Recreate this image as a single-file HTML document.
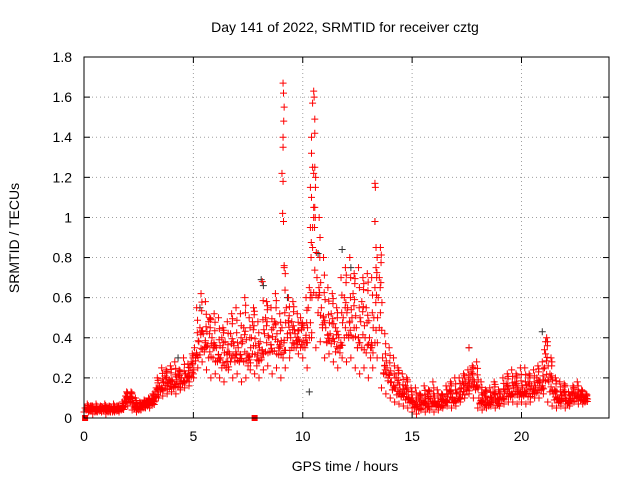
<!DOCTYPE html>
<html><head><meta charset="utf-8"><style>
html,body{margin:0;padding:0;background:#fff;}
svg{display:block;font-family:"Liberation Sans",sans-serif;}
</style></head><body>
<svg id="chart" width="640" height="480" xmlns="http://www.w3.org/2000/svg">
<text x="345" y="32" text-anchor="middle" font-size="14">Day 141 of 2022, SRMTID for receiver cztg</text>
<text x="345" y="471" text-anchor="middle" font-size="14">GPS time / hours</text>
<text transform="translate(19,238) rotate(-90)" text-anchor="middle" font-size="14">SRMTID / TECUs</text>
<g id="grid"></g><g id="marks"></g><g id="axes"></g>
</svg>
<script>
const hours=[0,0.2,0.4,0.6,0.8,1,1.2,1.4,1.6,1.8,2,2.2,2.4,2.6,2.8,3,3.2,3.4,3.6,3.8,4,4.2,4.4,4.6,4.8,5,5.2,5.4,5.6,5.8,6,6.2,6.4,6.6,6.8,7,7.2,7.4,7.6,7.8,8,8.2,8.4,8.6,8.8,9,9.2,9.4,9.6,9.8,10,10.2,10.4,10.6,10.8,11,11.2,11.4,11.6,11.8,12,12.2,12.4,12.6,12.8,13,13.2,13.4,13.6,13.8,14,14.2,14.4,14.6,14.8,15,15.2,15.4,15.6,15.8,16,16.2,16.4,16.6,16.8,17,17.2,17.4,17.6,17.8,18,18.2,18.4,18.6,18.8,19,19.2,19.4,19.6,19.8,20,20.2,20.4,20.6,20.8,21,21.2,21.4,21.6,21.8,22,22.2,22.4,22.6,22.8];
const lo=[.03,.03,.02,.03,.03,.02,.03,.03,.03,.06,.06,.04,.03,.04,.05,.05,.08,.10,.11,.12,.13,.12,.14,.15,.16,.22,.25,.28,.24,.20,.22,.20,.18,.24,.20,.22,.18,.20,.24,.22,.20,.24,.26,.22,.25,.20,.25,.30,.35,.32,.30,.25,.40,.35,.38,.30,.32,.28,.25,.30,.28,.30,.25,.22,.25,.20,.25,.30,.15,.12,.10,.08,.07,.06,.05,.03,.02,.04,.03,.04,.03,.04,.05,.06,.05,.06,.08,.10,.12,.10,.05,.04,.05,.06,.05,.06,.07,.08,.08,.07,.08,.07,.08,.10,.10,.12,.08,.06,.05,.06,.05,.06,.08,.07,.07];
const mid=[.05,.04,.05,.04,.05,.04,.05,.04,.05,.09,.09,.06,.05,.06,.07,.08,.13,.16,.18,.17,.18,.19,.20,.22,.25,.35,.38,.42,.36,.40,.35,.30,.38,.32,.36,.35,.38,.32,.40,.36,.38,.42,.40,.45,.38,.45,.55,.40,.42,.38,.45,.55,.85,.70,.55,.45,.42,.38,.40,.50,.55,.50,.45,.48,.40,.40,.50,.60,.30,.25,.18,.15,.14,.12,.10,.08,.06,.09,.07,.10,.08,.07,.09,.12,.10,.12,.15,.18,.20,.18,.10,.08,.09,.10,.08,.12,.14,.13,.15,.14,.15,.14,.16,.15,.18,.25,.18,.12,.10,.11,.09,.11,.12,.10,.09];
const hi=[.07,.06,.07,.06,.07,.06,.07,.06,.08,.13,.13,.10,.08,.09,.10,.12,.20,.25,.24,.26,.28,.24,.30,.27,.32,.55,.62,.58,.50,.52,.50,.45,.48,.52,.55,.52,.60,.50,.55,.48,.68,.58,.55,.62,.52,.75,.60,.58,.52,.45,.60,.95,1.25,1.00,.80,.65,.62,.55,.70,.75,.80,.72,.75,.70,.72,.70,.75,.85,.42,.35,.30,.25,.22,.20,.15,.15,.12,.16,.14,.18,.14,.12,.16,.18,.20,.20,.22,.24,.26,.28,.18,.14,.15,.18,.14,.20,.22,.24,.22,.25,.25,.22,.24,.26,.28,.40,.30,.20,.18,.17,.13,.16,.18,.14,.12];
const mid2=[.04,.06,.03,.05,.04,.05,.03,.06,.05,.11,.11,.05,.06,.07,.08,.10,.15,.14,.21,.19,.15,.22,.17,.20,.28,.30,.45,.33,.48,.35,.28,.40,.25,.42,.30,.28,.45,.30,.48,.26,.30,.50,.33,.48,.35,.30,.42,.48,.35,.50,.35,.65,1.05,.60,.45,.38,.52,.45,.35,.60,.40,.62,.35,.58,.55,.35,.65,.70,.22,.20,.14,.20,.11,.16,.08,.05,.10,.07,.12,.06,.06,.10,.08,.14,.08,.09,.18,.14,.23,.15,.07,.12,.06,.13,.10,.09,.17,.11,.18,.12,.11,.18,.12,.20,.14,.32,.22,.14,.08,.14,.07,.13,.10,.12,.10];
const spikeHours=[9.1,9.12,9.15,9.13,9.1,9.1,9.05,9.1,9.08,9.12,9.15,9.2,10.5,10.52,10.45,10.55,10.55,10.4,10.4,10.45,10.5,10.35,10.4,10.55,10.5,10.45,13.3,13.32,13.3,13.35,13.4,21.1,21.05,17.6];
const spikeVals=[1.67,1.62,1.55,1.48,1.40,1.35,1.22,1.18,1.02,0.98,0.76,0.72,1.63,1.60,1.57,1.49,1.42,1.40,1.32,1.25,1.22,1.15,1.10,1.05,1.0,0.95,1.17,1.15,0.98,0.85,0.80,0.38,0.34,0.35];
const blackHours=[8.1,8.2,9.3,10.7,11.8,12.2,13.3,10.3,20.95,17.6,4.3,5.3];
const blackVals=[0.69,0.66,0.60,0.82,0.84,0.75,0.98,0.13,0.43,0.35,0.30,0.55];
const squareHours=[0.05,7.8];
const xTicks=[0,5,10,15,20];
const yTicks=[0,0.2,0.4,0.6,0.8,1,1.2,1.4,1.6,1.8];
const yTickLabels=["0","0.2","0.4","0.6","0.8","1","1.2","1.4","1.6","1.8"];

const L=84,R=609,T=57,B=418,XMAX=24,YMAX=1.8;
const NS="http://www.w3.org/2000/svg";
function X(h){return L+(R-L)*h/XMAX;}
function Y(v){return B-(B-T)*v/YMAX;}
function mk(tag,attrs,parent){const e=document.createElementNS(NS,tag);for(const k in attrs)e.setAttribute(k,attrs[k]);parent.appendChild(e);return e;}
const grid=document.getElementById('grid'),marks=document.getElementById('marks'),axes=document.getElementById('axes');
yTicks.forEach((v,i)=>{
  if(i>0&&i<yTicks.length-1){const g=mk('line',{x1:L,x2:R,y1:Y(v),y2:Y(v),stroke:'#a0a0a0','stroke-dasharray':'1,3','stroke-width':1},grid);
  
  }
  const t=mk('text',{x:L-12,y:Y(v)+5,'text-anchor':'end','font-size':14},axes);t.textContent=yTickLabels[i];
  
  
  mk('line',{x1:L,x2:L+6,y1:Y(v),y2:Y(v),stroke:'#000'},axes);
  mk('line',{x1:R,x2:R-6,y1:Y(v),y2:Y(v),stroke:'#000'},axes);
});
xTicks.forEach(h=>{
  if(h>0){const g=mk('line',{x1:X(h),x2:X(h),y1:T,y2:B,stroke:'#a0a0a0','stroke-dasharray':'1,3'},grid);
  
  }
  const t=mk('text',{x:X(h),y:B+23,'text-anchor':'middle','font-size':14},axes);t.textContent=String(h);
  
  
  mk('line',{x1:X(h),x2:X(h),y1:B,y2:B-6,stroke:'#000'},axes);
  mk('line',{x1:X(h),x2:X(h),y1:T,y2:T+6,stroke:'#000'},axes);
});
const box=mk('rect',{x:L,y:T,width:R-L,height:B-T,fill:'none',stroke:'#000'},axes);


function cross(h,v,color,name){
  const x=X(h),y=Y(v),s=3.5;
  const p=mk('path',{d:`M${x-s},${y}H${x+s}M${x},${y-s}V${y+s}`,stroke:color,'stroke-width':1,fill:'none'},marks);
  
  
}
blackHours.forEach((h,i)=>cross(h,blackVals[i],'#333','black-point'));
const seriesList=[lo,mid,mid2,hi];
seriesList.forEach((arr,k)=>{
  const other=[mid,mid2,hi,lo][k];
  hours.forEach((h,i)=>{
    cross(h+0.05*k,arr[i],'#ff0000','red-point');
    cross(h+0.1+0.04*k,(arr[i]+other[i])/2,'#ff0000','red-point');
    cross(h+0.15+0.02*k,arr[i]*0.25+other[i]*0.75,'#ff0000','red-point');
  });
});
spikeHours.forEach((h,i)=>cross(h,spikeVals[i],'#ff0000','red-spike-point'));
squareHours.forEach(h=>{
  const r=mk('rect',{x:X(h)-3,y:B-3,width:6,height:6,fill:'#ff0000'},marks);
  
  
});
</script>
</body></html>
